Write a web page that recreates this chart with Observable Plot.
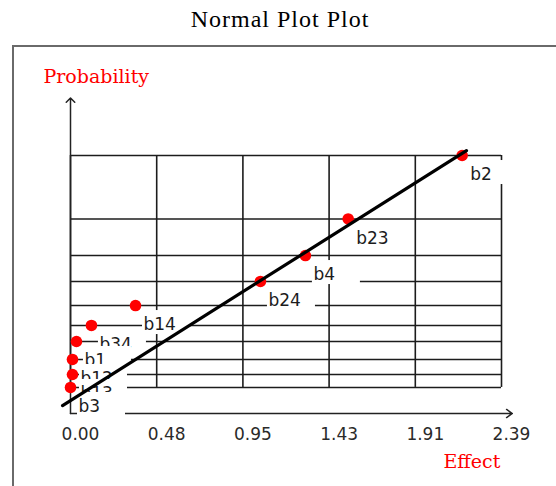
<!DOCTYPE html>
<html><head><meta charset="utf-8">
<script src="https://cdn.jsdelivr.net/npm/d3@7"></script>
<script src="https://cdn.jsdelivr.net/npm/@observablehq/plot@0.6"></script>
<style>
html,body{margin:0;padding:0;background:#fff;overflow:hidden;width:556px;height:486px;}
#wrap{position:relative;width:556px;height:486px;}
#chart{position:absolute;left:0;top:0;}
#title{position:absolute;left:0;top:7px;width:556px;padding-left:4px;box-sizing:border-box;text-align:center;font-family:"Liberation Serif",serif;font-size:24px;line-height:24px;letter-spacing:1px;color:#000;white-space:nowrap;}
#frame{position:absolute;left:12px;top:45px;width:600px;height:600px;border-top:2px solid #6a6a6a;border-left:2px solid #6a6a6a;pointer-events:none;}
</style>
</head><body>
<div id="wrap"><div id="chart"></div><div id="title">Normal Plot Plot</div><div id="frame"></div></div>
<script>
// Effects (x) and normal scores (y)
const labels  = ["b2", "b23", "b4", "b24", "b14", "b34", "b1", "b12", "b13", "b3"];
const effects = [2.169, 1.538, 1.301, 1.052, 0.360, 0.116, 0.033, 0.011, 0.011, 0.000];
const scores  = [1.960, 1.441, 1.142, 0.930, 0.733, 0.570, 0.439, 0.292, 0.169, 0.063];

// Fitted line end points
const lineEffect = [-0.044, 2.193];
const lineScore  = [-0.085, 2.000];

// X axis ticks
const tickValues = [0, 0.4774, 0.9548, 1.4322, 1.9096, 2.387];
const tickLabels = ["0.00", "0.48", "0.95", "1.43", "1.91", "2.39"];

// Axis extents
const axisBase = -0.15;
const axisTop = 2.43;
const axisRight = 2.447;

const idx = labels.map((_, i) => i);
const lineIdx = lineEffect.map((_, i) => i);
const gridLo = d3.min(scores), gridHi = d3.max(scores);
const ink = "#1c1c1c";

const labelMarks = idx.flatMap(i => [
  Plot.rect([i], {
    x1: j => effects[j], x2: j => effects[j],
    y1: j => scores[j], y2: j => scores[j],
    fill: "white",
    insetLeft: 7, insetRight: -55, insetTop: 5, insetBottom: -29
  }),
  Plot.text([i], {
    x: j => effects[j], y: j => scores[j], text: j => labels[j],
    textAnchor: "start", dx: 8, dy: 19.5, fill: ink
  })
]);

const chart = Plot.plot({
  width: 556, height: 486,
  marginLeft: 70, marginRight: 55, marginTop: 100, marginBottom: 73,
  x: {domain: [0, 2.387], axis: null},
  y: {domain: [axisBase, 2.41], axis: null},
  style: {fontFamily: "DejaVu Sans", fontSize: "17px", color: ink, background: "transparent", overflow: "visible"},
  marks: [
    Plot.ruleY(idx, {y: i => scores[i], x1: 0, x2: tickValues[tickValues.length - 1], stroke: ink, strokeWidth: 1.6}),
    Plot.ruleX(tickValues, {x: d => d, y1: gridLo, y2: gridHi, stroke: ink, strokeWidth: 1.6}),
    Plot.arrow([0], {x1: 0, y1: axisBase, x2: 0, y2: axisTop, stroke: "#222", strokeWidth: 1.5, headLength: 6, headAngle: 90}),
    Plot.arrow([0], {x1: 0, y1: axisBase, x2: axisRight, y2: axisBase, stroke: "#222", strokeWidth: 1.5, headLength: 7, headAngle: 70}),
    Plot.text(tickValues, {x: d => d, y: axisBase, text: (d, i) => tickLabels[i], dx: 10, dy: 21, fill: "#2a2a2a"}),
    ...labelMarks,
    Plot.dot(idx, {x: i => effects[i], y: i => scores[i], r: 5.8, fill: "#ff0000", stroke: "none"}),
    Plot.line(lineIdx, {x: i => lineEffect[i], y: i => lineScore[i], stroke: "#000", strokeWidth: 3.2}),
    Plot.text(["Probability"], {frameAnchor: "top-left", text: d => d, textAnchor: "start", dx: -27, dy: -31, fill: "#ff0000", fontFamily: "DejaVu Serif", fontSize: 19}),
    Plot.text(["Effect"], {frameAnchor: "bottom-left", text: d => d, textAnchor: "start", dx: 373, dy: 54, fill: "#ff0000", fontFamily: "DejaVu Serif", fontSize: 19})
  ]
});
document.getElementById("chart").appendChild(chart);
</script>
</body></html>
